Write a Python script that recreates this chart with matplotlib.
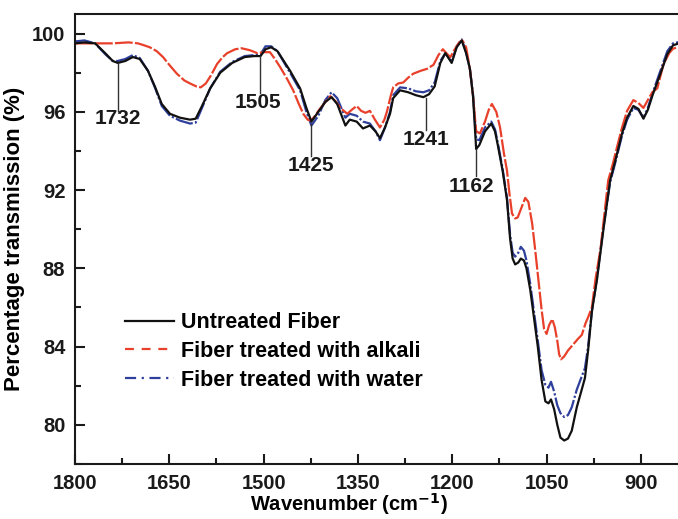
"""
FTIR spectra of untreated, alkali-treated and water-treated fibre
"""
import numpy as np
import matplotlib
matplotlib.use("Agg")
import matplotlib.pyplot as plt
from matplotlib.lines import Line2D
from matplotlib.ticker import MultipleLocator

plt.rcParams['font.family'] = ['Liberation Sans', 'DejaVu Sans']
plt.rcParams['font.weight'] = 'bold'

# Untreated fibre (wavenumber, % transmission)
wn_untreated = [1800, 1785, 1768, 1752, 1740, 1732, 1720, 1708, 1697, 1684, 1673, 1662,
                1649, 1633, 1617, 1608, 1598, 1585, 1569, 1550, 1530, 1515, 1505, 1497,
                1488, 1478, 1468, 1458, 1442, 1432, 1424, 1413, 1402, 1392, 1383, 1370,
                1363, 1352, 1342, 1331, 1322, 1315, 1307, 1299, 1294, 1283, 1270, 1258,
                1246, 1237, 1228, 1219, 1211, 1201, 1193, 1185, 1178, 1172, 1167, 1162,
                1157, 1148, 1138, 1132, 1127, 1120, 1113, 1108, 1104, 1100, 1095, 1091,
                1086, 1082, 1076, 1071, 1064, 1058, 1052, 1047, 1043, 1038, 1033, 1028,
                1022, 1016, 1010, 1002, 995, 989, 984, 978, 970, 960, 949, 940, 930, 922,
                912, 904, 896, 889, 881, 869, 858, 849, 835]
t_untreated = [99.5, 99.55, 99.5, 99.0, 98.6, 98.5, 98.6, 98.8, 98.7, 98.1, 97.3, 96.4,
               95.9, 95.7, 95.6, 95.65, 96.3, 97.2, 98.0, 98.5, 98.8, 98.85, 98.85, 99.2,
               99.3, 99.1, 98.6, 98.1, 97.2, 96.2, 95.5, 96.0, 96.5, 96.75, 96.4, 95.3,
               95.6, 95.5, 95.15, 95.3, 95.0, 94.65, 95.2, 95.9, 96.7, 97.1, 97.0, 96.85,
               96.75, 96.9, 97.3, 98.5, 99.0, 98.5, 99.3, 99.65, 99.0, 98.2, 96.8, 94.1,
               94.3, 95.0, 95.4, 95.0, 94.2, 93.0, 91.5, 89.5, 88.5, 88.2, 88.3, 88.5,
               88.4, 88.0, 86.9, 85.7, 84.0, 82.3, 81.2, 81.1, 81.3, 80.8, 80.0, 79.35,
               79.2, 79.3, 79.7, 80.9, 81.7, 82.4, 83.8, 85.8, 87.4, 89.9, 92.5, 93.6, 94.9, 95.7,
               96.3, 96.15, 95.65, 96.1, 96.9, 97.95, 98.95, 99.4, 99.55]

# Alkali-treated fibre
wn_alkali = [1800, 1768, 1740, 1715, 1700, 1690, 1681, 1670, 1660, 1650, 1638, 1626,
             1617, 1607, 1600, 1592, 1584, 1574, 1565, 1558, 1545, 1535, 1522, 1510,
             1500, 1490, 1482, 1474, 1463, 1453, 1444, 1437, 1430, 1425, 1418, 1413,
             1402, 1394, 1386, 1378, 1367, 1360, 1352, 1345, 1338, 1331, 1323, 1315,
             1308, 1304, 1298, 1294, 1286, 1278, 1270, 1262, 1250, 1240, 1230, 1222,
             1215, 1208, 1203, 1196, 1189, 1184, 1178, 1172, 1167, 1162, 1156, 1148,
             1142, 1137, 1130, 1124, 1118, 1113, 1109, 1105, 1100, 1096, 1090, 1084,
             1079, 1073, 1068, 1063, 1058, 1054, 1050, 1046, 1041, 1037, 1033, 1030,
             1027, 1022, 1016, 1008, 1000, 994, 988, 984, 978, 972, 964, 958, 952, 945,
             938, 930, 922, 912, 904, 896, 889, 882, 874, 864, 855, 849, 835]
t_alkali = [99.5, 99.5, 99.5, 99.55, 99.5, 99.4, 99.3, 99.1, 98.8, 98.4, 97.95, 97.6,
            97.45, 97.3, 97.25, 97.45, 97.85, 98.45, 98.8, 99.0, 99.2, 99.25, 99.15, 99.0,
            99.05, 99.05, 98.7, 98.3, 97.7, 97.1, 96.4, 95.9, 95.6, 95.55, 95.8, 96.05,
            96.5, 96.8, 96.55, 96.2, 95.9, 96.1, 96.3, 96.05, 95.95, 96.05, 95.6, 95.2,
            95.6, 96.0, 96.8, 97.25, 97.45, 97.5, 97.75, 97.95, 98.1, 98.2, 98.4, 98.9,
            99.2, 98.95, 98.8, 99.2, 99.55, 99.65, 99.3, 98.2, 96.8, 95.0, 94.9, 95.5,
            96.1, 96.4, 96.0, 95.2, 93.9, 93.0, 91.8, 90.8, 90.55, 90.6, 91.1, 91.6,
            91.4, 90.3, 88.9, 87.4, 85.9, 84.9, 84.65, 85.1, 85.4, 85.0, 84.3, 83.6,
            83.35, 83.5, 83.8, 84.1, 84.4, 84.6, 85.2, 85.5, 86.0, 87.5, 89.05, 90.8, 92.5, 93.3,
            94.2, 95.2, 96.05, 96.6, 96.45, 96.2, 96.6, 97.0, 97.2, 98.45, 99.0, 99.23, 99.35]

# Water-treated fibre, sampled on the same wavenumbers as the untreated one
wn_water = wn_untreated
t_water = [99.6, 99.65, 99.5, 98.95, 98.6, 98.6, 98.7, 98.9, 98.75, 98.1, 97.25, 96.3,
           95.8, 95.55, 95.4, 95.45, 96.2, 97.2, 98.05, 98.55, 98.85, 98.9, 98.95, 99.35,
           99.35, 99.1, 98.55, 98.0, 97.1, 96.0, 95.3, 95.8, 96.6, 97.0, 96.7, 95.7,
           95.9, 95.8, 95.5, 95.4, 95.0, 94.55, 95.2, 96.0, 96.85, 97.25, 97.2, 97.05,
           97.0, 97.1, 97.5, 98.6, 99.0, 98.55, 99.35, 99.7, 99.05, 98.2, 96.9, 94.6,
           94.55, 95.2, 95.5, 95.1, 94.3, 93.1, 91.6, 89.7, 88.8, 88.6, 88.8, 89.1,
           88.9, 88.4, 87.2, 86.0, 84.3, 82.8, 82.05, 81.9, 82.2, 81.7, 81.0, 80.6,
           80.4, 80.5, 80.9, 81.8, 82.4, 82.9, 84.0, 85.8, 87.5, 90.0, 92.4, 93.5, 94.8, 95.6,
           96.2, 96.1, 95.7, 96.2, 97.0, 98.1, 99.1, 99.5, 99.6]

# Marked bands with their pointer lines and label positions
peaks = [1732, 1505, 1425, 1241, 1162]
peak_line_top = [98.5, 98.85, 95.4, 96.7, 94.1]
peak_line_bottom = [96.05, 96.95, 93.75, 95.05, 92.7]
peak_text_x = [1732, 1509, 1425, 1242, 1170]
peak_text_y = [95.65, 96.5, 93.25, 94.6, 92.2]

BLACK = '#111111'
RED = '#E8402A'
BLUE = '#2E3F9C'

fig = plt.figure(figsize=(6.78, 5.19), dpi=100)
ax = fig.add_axes([0.1106, 0.106, 0.895, 0.867])

ax.plot(wn_untreated, t_untreated, color=BLACK, lw=1.6, zorder=3)
ax.plot(wn_water, t_water, color=BLUE, lw=1.6, dashes=(8, 1.0, 1, 1.0), zorder=2)
ax.plot(wn_alkali, t_alkali, color=RED, lw=1.6, dashes=(8, 1.0), zorder=2)

for p, top, bot, tx, ty in zip(peaks, peak_line_top, peak_line_bottom,
                               peak_text_x, peak_text_y):
    ax.plot([p, p], [top, bot], color='#333333', lw=1.0, zorder=4)
    ax.text(tx, ty, str(p), ha='center', va='center', fontsize=15,
            fontweight='bold', color='#1a1a1a')

ax.set_xlim(1800, 835)
ax.set_ylim(78, 101)
ax.xaxis.set_major_locator(MultipleLocator(150))
ax.xaxis.set_minor_locator(MultipleLocator(75))
ax.yaxis.set_major_locator(MultipleLocator(4))
ax.yaxis.set_minor_locator(MultipleLocator(2))
ax.set_yticks(np.arange(80, 101, 4))
ax.tick_params(which='both', direction='in', width=1.5, labelsize=14.5,
               top=False, right=False, colors='#1a1a1a')
ax.tick_params(which='major', length=7, pad=7)
ax.tick_params(which='minor', length=4)
for lab in ax.get_xticklabels() + ax.get_yticklabels():
    lab.set_fontweight('bold')
for s in ax.spines.values():
    s.set_linewidth(1.5)
    s.set_color('#1a1a1a')

ax.set_xlabel('Wavenumber (cm$^{\\mathbf{-1}}$)', fontsize=14.5, fontweight='bold')
ax.xaxis.label.set_va('center')
ax.xaxis.set_label_coords(0.451, -0.09)
ax.set_ylabel('Percentage transmission (%)', fontsize=16, fontweight='bold',
              labelpad=5)

handles = [Line2D([], [], color=BLACK, lw=1.6),
           Line2D([], [], color=RED, lw=1.6, dashes=(4, 3.5)),
           Line2D([], [], color=BLUE, lw=1.6, dashes=(5, 2.5, 1, 2.5))]
labels = ['Untreated Fiber', 'Fiber treated with alkali', 'Fiber treated with water']
leg = ax.legend(handles, labels, loc='center left', bbox_to_anchor=(0.064, 0.25),
                frameon=False, fontsize=15.5, borderpad=0, handlelength=2.3,
                handletextpad=0.33, labelspacing=0.35)
for t in leg.get_texts():
    t.set_fontweight('bold')

fig.savefig('out.png', dpi=100)
